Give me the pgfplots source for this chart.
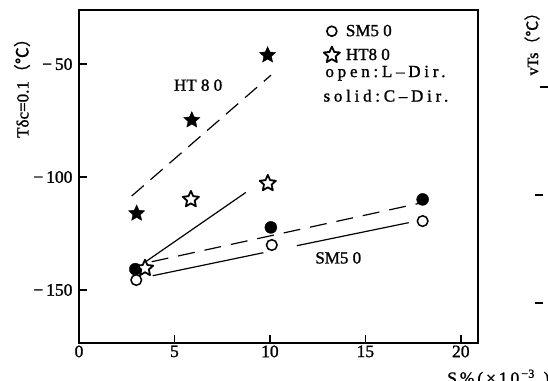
\documentclass[border=0pt]{standalone}
\usepackage{fontspec}
\setmainfont{Liberation Serif}[FakeBold=1.2]
\newfontfamily\cjk{Noto Sans CJK JP}[FakeBold=0.6]
\usepackage{pgfplots}
\pgfplotsset{compat=1.18}
\usetikzlibrary{plotmarks}
\pgfdeclareplotmark{pstar}{%
  \pgfpathmoveto{\pgfpointpolar{90}{\pgfplotmarksize}}%
  \pgfpathlineto{\pgfpointpolar{126}{0.47\pgfplotmarksize}}%
  \pgfpathlineto{\pgfpointpolar{162}{\pgfplotmarksize}}%
  \pgfpathlineto{\pgfpointpolar{198}{0.47\pgfplotmarksize}}%
  \pgfpathlineto{\pgfpointpolar{234}{\pgfplotmarksize}}%
  \pgfpathlineto{\pgfpointpolar{270}{0.47\pgfplotmarksize}}%
  \pgfpathlineto{\pgfpointpolar{306}{\pgfplotmarksize}}%
  \pgfpathlineto{\pgfpointpolar{342}{0.47\pgfplotmarksize}}%
  \pgfpathlineto{\pgfpointpolar{18}{\pgfplotmarksize}}%
  \pgfpathlineto{\pgfpointpolar{54}{0.47\pgfplotmarksize}}%
  \pgfpathclose
  \pgfusepathqfillstroke}
\newcommand\fs{\fontsize{17}{20}\selectfont}
\newcommand\ft{\fontsize{17.5}{20}\selectfont}
\newcommand\degC{{\cjk （℃）}}
\begin{document}
\begin{tikzpicture}[x=1pt,y=1pt]
\begin{axis}[
  at={(79pt,37pt)}, anchor=south west,
  scale only axis, width=399pt, height=333pt,
  xmin=0, xmax=20.9, ymin=-173.5, ymax=-26,
  axis line style={line width=1.4pt},
  tick pos=left, tick align=inside,
  major tick length=8pt,
  every tick/.style={black, line width=1.4pt},
  xtick={0,5,10,15,20}, xticklabels={{\ft 0},{\ft 5},{\ft 10},{\ft 15},{\ft 20}},
  ytick={-150,-100,-50}, yticklabels={{\ft −\,150},{\ft −\,100},{\ft −\,50}},
  yticklabel style={xshift=-3pt},
  xticklabel style={yshift=1pt},
  clip=false,
  legend style={draw=none, fill=none, at={(axis cs:12.81,-31.6)}, anchor=north west, font=\fs, row sep=7pt, inner sep=0pt,
    /tikz/every odd column/.append style={column sep=4pt}},
  legend cell align=left,
  legend image code/.code={\draw[#1] plot coordinates {(8pt,0pt)};},
]
% trend lines
\addplot[forget plot, black, line width=1.2pt, dash pattern=on 16pt off 9pt] coordinates {(2.76,-108.4) (10.05,-54.9)};
\addplot[forget plot, black, line width=1.2pt] coordinates {(3.37,-138.2) (8.74,-106.8)};
\addplot[forget plot, black, line width=1.2pt, dash pattern=on 17pt off 10pt] coordinates {(3.81,-137.5) (17.79,-111.7)};
\addplot[forget plot, black, line width=1.2pt] coordinates {(3.86,-143.7) (9.66,-133.5)};
\addplot[forget plot, black, line width=1.2pt] coordinates {(11.41,-130.4) (17.27,-120.2)};
% SM50 solid (C-Dir.)
\addplot[forget plot, only marks, mark=*, mark size=6pt, mark options={fill=black, draw=black}] coordinates {(2.95,-140.8) (10.05,-122.3) (18.0,-109.9)};
% SM50 open (L-Dir.)
\addplot[forget plot, only marks, mark=*, mark size=5.3pt, mark options={fill=white, draw=black, line width=1.5pt}] coordinates {(3.0,-145.6) (10.1,-130.1) (18.0,-119.5)};
% HT80 open (L-Dir.)
\addplot[forget plot, only marks, mark=pstar, mark size=8.5pt, mark options={fill=white, draw=black, line width=1.8pt, line join=round}] coordinates {(3.46,-140.4) (5.86,-109.9) (9.89,-102.8)};
% HT80 solid (C-Dir.)
\addplot[forget plot, only marks, mark=pstar, mark size=8.5pt, mark options={fill=black, draw=black}] coordinates {(3.02,-116.1) (5.91,-74.8) (9.88,-46.0)};
\addlegendimage{only marks, mark=*, mark size=5pt, mark options={fill=white, draw=black, line width=1.6pt}}
\addlegendentry{SM5 0}
\addlegendimage{only marks, mark=pstar, mark size=8.5pt, mark options={fill=white, draw=black, line width=1.8pt, line join=round}}
\addlegendentry{HT8 0}
\node[font=\fs, anchor=west, inner sep=0pt] at (axis cs:12.9,-54.0) {\addfontfeature{LetterSpace=22}open:L–Dir.};
\node[font=\fs, anchor=west, inner sep=0pt] at (axis cs:12.8,-64.0) {\addfontfeature{LetterSpace=22}solid:C–Dir.};
\node[font=\fs] at (axis cs:6.24,-59.3) {HT 8 0};
\node[font=\fs] at (axis cs:13.58,-135.8) {SM5 0};
\end{axis}
\node[rotate=90, font=\fontsize{17}{20}\selectfont] at (22,296) {Tδc=0.1\degC};
\node[rotate=90, font=\fontsize{16}{19}\selectfont] at (532,340) {vTs\degC};
\draw[line width=1.2pt] (540,293) -- (548,293);
\draw[line width=1.2pt] (535,185) -- (543,185);
\draw[line width=1.2pt] (535,77) -- (543,77);
\node[font=\ft, anchor=base west, inner sep=0pt] at (447,-4) {S\,\%\,(\,×\,1\,0\textsuperscript{\,−3}\,\,\,)};
\pgfresetboundingbox
\useasboundingbox (0,0) rectangle (548,380);
\end{tikzpicture}
\end{document}
